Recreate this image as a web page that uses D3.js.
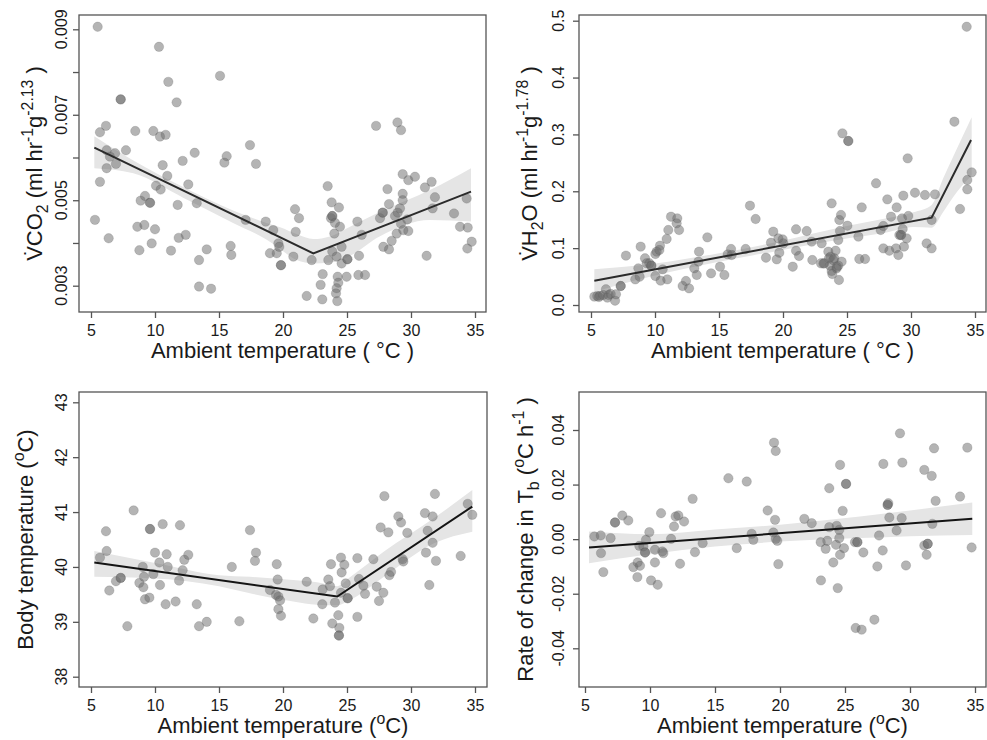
<!DOCTYPE html>
<html>
<head>
<meta charset="utf-8">
<script src="https://cdn.jsdelivr.net/npm/d3@7"></script>
<style>
  body { margin: 0; background: #fff; }
  svg text { font-family: "Liberation Sans", Arial, sans-serif; fill: #1a1a1a; white-space: pre; }
</style>
</head>
<body>
<svg id="chart" width="987" height="740"></svg>
<script>
// ---- data ----
var xTicks = [5, 10, 15, 20, 25, 30, 35];

// panel A: VCO2
var co2Points = [[5.52,0.00906],[5.31,0.00454],[5.70,0.00659],[6.17,0.00674],[6.22,0.00617],[6.48,0.00602],[6.88,0.00610],[6.95,0.00585],[6.22,0.00575],[5.70,0.00543],
  [6.38,0.00411],[7.32,0.00736],[7.73,0.00617],[8.46,0.00662],[8.62,0.00438],[8.78,0.00383],[8.88,0.00499],[9.22,0.00510],[9.17,0.00442],[9.61,0.00494],
  [9.74,0.00399],[9.87,0.00662],[10.08,0.00534],[10.0,0.00432],[10.31,0.00859],[10.39,0.00649],[10.83,0.00653],[10.44,0.00525],[10.6,0.00582],[10.96,0.00557],
  [11.04,0.00777],[11.25,0.00382],[11.69,0.00729],[11.77,0.00489],[11.85,0.00412],[12.16,0.00592],[12.40,0.00419],[12.60,0.00537],[13.10,0.00611],[13.26,0.00493],
  [13.44,0.00360],[13.44,0.00298],[14.04,0.00385],[14.38,0.00293],[15.08,0.00791],[15.60,0.00603],[15.42,0.00588],[15.91,0.00393],[15.96,0.00372],[17.08,0.00454],
  [17.42,0.00629],[17.89,0.00585],[18.65,0.00450],[18.98,0.00376],[19.24,0.00430],[19.51,0.00376],[19.64,0.00399],[19.71,0.00391],[19.84,0.00348],[19.84,0.00348],
  [20.81,0.00368],[20.94,0.00479],[20.99,0.00426],[21.25,0.00458],[21.85,0.00276],[22.24,0.00360],[22.94,0.00302],[23.10,0.00327],[23.07,0.00268],[23.49,0.00533],
  [23.54,0.00360],[23.80,0.00495],[23.75,0.00458],[23.85,0.00463],[23.85,0.00463],[24.06,0.00447],[24.01,0.00422],[23.85,0.00380],[24.19,0.00368],[24.37,0.00483],
  [24.45,0.00438],[24.27,0.00321],[24.32,0.00307],[24.19,0.00294],[24.14,0.00282],[24.24,0.00264],[24.58,0.00391],[24.58,0.00352],[25.03,0.00362],[25.03,0.00362],
  [24.97,0.00321],[25.81,0.00450],[25.94,0.00370],[26.15,0.00419],[25.89,0.00325],[26.41,0.00325],[27.27,0.00674],[27.58,0.00458],[27.79,0.00471],[27.79,0.00471],
  [27.84,0.00391],[28.16,0.00526],[28.28,0.00491],[28.28,0.00385],[28.49,0.00405],[28.75,0.00463],[28.94,0.00682],[29.22,0.00664],[28.96,0.00471],[29.14,0.00481],
  [28.88,0.00422],[29.35,0.00561],[29.35,0.00515],[29.35,0.00500],[29.22,0.00445],[29.40,0.00430],[29.71,0.00455],[29.79,0.00547],[29.79,0.00428],[30.31,0.00555],
  [31.09,0.00530],[31.22,0.00370],[31.61,0.00543],[31.69,0.00481],[31.87,0.00507],[33.36,0.00469],[33.83,0.00438],[34.35,0.00504],[34.43,0.00436],[34.40,0.00387],
  [34.74,0.00403],[7.32,0.00736],[9.61,0.00494]];
var co2FitX = [5.26, 22.37, 34.69];
var co2FitY = [0.00623, 0.003757, 0.0052];
var co2BandX  = [5.26, 8.31, 12.2, 16.1, 18.7, 19.77, 21.07, 22.37, 23.67, 24.97, 27.58, 31.48, 34.69];
var co2BandUp = [0.0065, 0.00593, 0.00531, 0.00476, 0.00447, 0.00437, 0.00421, 0.00409, 0.00415, 0.00434, 0.00473, 0.00524, 0.00575];
var co2BandLo = [0.00575, 0.00563, 0.00506, 0.00447, 0.00408, 0.00386, 0.0036, 0.00352, 0.00354, 0.00366, 0.00416, 0.00454, 0.0045];
var co2YTicks = [0.003, 0.004, 0.005, 0.006, 0.007, 0.008, 0.009];
var co2YLabels = ["0.003", "", "0.005", "", "0.007", "", "0.009"];

// panel B: VH2O
var h2oPoints = [[5.26,0.0147],[5.49,0.0158],[5.70,0.0164],[5.62,0.0140],[5.96,0.0176],[6.17,0.0276],[6.28,0.0129],[6.38,0.0176],[6.54,0.0193],[6.88,0.0076],
  [6.95,0.0188],[7.32,0.0334],[7.32,0.0334],[7.73,0.0868],[8.46,0.0451],[8.70,0.0645],[8.88,0.1026],[8.80,0.0498],[9.22,0.0821],[9.35,0.0733],
  [9.56,0.0733],[9.71,0.0692],[9.71,0.0692],[10.03,0.0897],[10.13,0.0938],[10.03,0.0510],[10.39,0.1043],[10.34,0.0967],[10.44,0.0428],[10.60,0.0627],
  [10.91,0.1161],[11.04,0.1319],[10.96,0.0451],[11.25,0.1553],[11.74,0.1524],[11.69,0.1436],[11.88,0.1319],[12.16,0.0334],[12.42,0.0422],[12.66,0.0293],
  [13.07,0.0645],[13.26,0.0528],[13.44,0.0938],[13.39,0.0762],[14.09,0.1190],[14.38,0.0557],[15.08,0.0674],[15.42,0.0528],[15.68,0.0891],[15.94,0.0985],
  [15.99,0.0879],[17.08,0.0985],[17.42,0.1747],[17.86,0.1512],[18.67,0.0832],[19.24,0.1290],[19.06,0.1096],[19.51,0.0803],[19.64,0.1172],[19.71,0.0920],
  [19.97,0.1155],[20.03,0.1084],[20.76,0.0674],[21.02,0.1331],[21.02,0.0955],[21.25,0.0862],[21.85,0.1301],[22.24,0.1114],[22.29,0.0791],[23.02,0.1084],
  [22.97,0.0733],[23.23,0.0733],[23.54,0.0938],[23.59,0.0821],[23.80,0.1788],[23.67,0.0692],[23.80,0.0598],[23.85,0.0545],[24.01,0.0821],[24.11,0.0955],
  [24.19,0.0645],[24.32,0.0692],[24.37,0.0440],[24.32,0.1143],[24.40,0.1495],[24.53,0.1583],[24.45,0.1301],[24.58,0.0762],[24.64,0.3019],[25.10,0.2884],
  [25.10,0.2884],[25.03,0.1395],[25.89,0.1202],[25.96,0.0809],[26.15,0.1717],[26.41,0.0809],[27.27,0.2140],[27.63,0.1319],[27.84,0.1389],[27.84,0.0996],
  [28.15,0.1858],[28.31,0.0955],[28.44,0.1553],[28.88,0.1717],[28.83,0.0996],[29.01,0.0879],[29.09,0.1231],[29.22,0.1231],[29.22,0.1231],[29.40,0.1923],
  [29.30,0.1524],[29.35,0.1336],[29.45,0.1026],[29.66,0.1172],[29.74,0.2579],[29.79,0.1565],[30.31,0.1975],[31.09,0.1934],[31.22,0.1084],[31.61,0.0996],
  [31.61,0.1495],[31.87,0.1946],[33.39,0.3224],[33.83,0.1688],[34.40,0.2198],[34.40,0.2034],[34.74,0.2333],[34.35,0.4894],[23.72,0.0850],[23.93,0.0790],
  [24.20,0.0670],[23.16,0.0730]];
var h2oFitX = [5.26, 31.61, 34.69];
var h2oFitY = [0.0428, 0.1536, 0.2902];
var h2oBandX  = [5.26, 10, 15, 19.77, 24.97, 28, 30.18, 31.61, 32.5, 33.3, 34.74];
var h2oBandUp = [0.0627, 0.073, 0.091, 0.112, 0.139, 0.152, 0.163, 0.176, 0.222, 0.261, 0.33];
var h2oBandLo = [0.0234, 0.052, 0.076, 0.096, 0.117, 0.127, 0.137, 0.136, 0.163, 0.19, 0.228];
var h2oYTicks = [0, 0.1, 0.2, 0.3, 0.4, 0.5];
var h2oYLabels = ["0.0", "0.1", "0.2", "0.3", "0.4", "0.5"];

// panel C: body temperature
var tbPoints = [[5.70,40.17],[6.17,40.65],[6.22,40.29],[6.43,39.57],[6.95,39.74],[7.32,39.80],[7.32,39.80],[7.84,38.92],[8.33,41.03],[8.78,39.71],
  [9.04,40.00],[9.09,39.63],[9.14,39.82],[9.22,39.41],[9.56,39.44],[9.61,40.69],[9.61,40.69],[9.87,39.87],[10.0,40.26],[10.34,40.08],
  [10.39,39.67],[10.60,40.78],[10.83,39.32],[10.91,40.23],[10.99,40.00],[11.61,39.37],[11.88,39.75],[11.95,40.76],[12.16,39.94],[12.29,40.13],
  [12.60,40.22],[13.26,39.32],[13.44,38.92],[14.04,39.00],[16.0,40.00],[16.59,39.01],[17.42,40.67],[17.89,40.26],[17.81,40.11],[18.98,39.58],
  [19.51,40.05],[19.58,39.77],[19.45,39.49],[19.64,39.46],[19.77,39.39],[19.64,39.23],[19.84,39.11],[21.85,39.73],[22.37,39.06],[23.10,39.59],
  [23.07,39.32],[23.54,39.77],[23.67,39.65],[23.75,40.05],[23.85,38.97],[24.06,39.35],[24.32,39.12],[24.40,38.89],[24.37,38.75],[24.37,38.75],
  [24.53,40.17],[24.58,39.90],[24.79,40.04],[24.53,39.53],[24.90,39.70],[25.05,39.43],[25.05,39.43],[25.81,40.16],[25.81,39.09],[25.94,39.78],
  [26.28,39.66],[26.41,39.51],[27.06,40.14],[27.32,39.64],[27.50,39.38],[27.63,40.72],[27.84,39.53],[27.92,41.29],[28.23,40.63],[28.31,39.85],
  [28.44,39.91],[29.01,40.92],[29.22,40.81],[29.35,40.14],[29.40,40.10],[29.71,40.62],[31.09,40.98],[31.17,40.26],[31.30,40.66],[31.43,39.67],
  [31.69,40.92],[31.69,40.44],[31.87,41.33],[31.95,40.11],[33.88,40.20],[34.43,41.15],[34.79,40.95]];
var tbFitX = [5.26, 24.24, 34.79];
var tbFitY = [40.08, 39.46, 41.10];
var tbBandX  = [5.26, 10, 15, 17.42, 20.8, 22.65, 24.24, 25.28, 27.89, 31.8, 34.79];
var tbBandUp = [40.29, 40.07, 39.85, 39.82, 39.76, 39.72, 39.65, 39.82, 40.28, 40.89, 41.40];
var tbBandLo = [39.82, 39.79, 39.65, 39.52, 39.37, 39.31, 39.30, 39.40, 39.82, 40.43, 40.64];
var tbYTicks = [38, 39, 40, 41, 42, 43];
var tbYLabels = ["38", "39", "40", "41", "42", "43"];

// panel D: rate of change in Tb
var rtPoints = [[5.72,0.00098],[6.21,0.00134],[6.23,-0.00512],[6.41,-0.01207],[6.97,0.00037],[7.31,0.0061],[7.31,0.0061],[7.87,0.00866],[8.33,0.00683],[8.72,-0.01024],
  [9.05,-0.00854],[9.03,-0.0139],[9.23,-0.00976],[9.18,-0.00244],[9.49,-0.00268],[9.62,-0.00488],[9.62,-0.00488],[9.69,-0.00024],[9.95,0.00256],[10.08,-0.01512],
  [10.38,-0.00854],[10.38,-0.0039],[10.59,-0.01671],[10.85,0.00951],[10.95,-0.00451],[11.03,-0.00512],[11.62,0.00012],[11.85,0.00463],[11.97,0.00829],[12.18,0.00866],
  [12.31,-0.00902],[12.62,0.00646],[13.28,0.01476],[13.46,-0.00476],[14.05,-0.00146],[16.03,0.02232],[16.67,-0.00329],[17.44,0.0211],[17.82,0.00195],[17.95,-0.00024],
  [19.05,0.01049],[19.54,0.03537],[19.67,0.03232],[19.62,0.00707],[19.49,0.00244],[19.67,0.00012],[19.79,-0.00061],[19.87,-0.00915],[21.87,0.00744],[22.44,0.00585],
  [23.13,-0.0011],[23.15,-0.01512],[23.51,-0.00354],[23.64,-0.00061],[23.79,0.01866],[23.79,0.00439],[24.10,-0.00854],[24.31,-0.00207],[24.36,0.00488],[24.44,-0.01793],
  [24.56,0.00341],[24.56,0.00037],[24.62,0.0272],[24.62,-0.00573],[24.82,0.01037],[24.92,-0.00329],[25.08,0.02024],[25.08,0.02024],[25.77,-0.0011],[25.95,-0.0011],
  [25.95,-0.0011],[25.82,-0.03256],[26.28,-0.03317],[26.41,-0.00488],[27.26,-0.02951],[27.49,-0.01],[27.62,0.00134],[27.90,-0.00415],[27.95,0.02756],[28.28,0.01256],
  [28.28,0.01256],[28.33,0.01317],[28.41,0.00793],[28.97,0.00317],[29.23,0.03878],[29.41,0.02805],[29.36,0.00768],[29.69,-0.00963],[31.10,0.02537],[31.10,-0.00232],
  [31.28,-0.00573],[31.36,-0.00171],[31.36,-0.00171],[31.67,0.02317],[31.72,0.00561],[31.85,0.03329],[31.97,0.01402],[33.85,0.01561],[34.41,0.03354],[34.74,-0.00305]];
var rtFitX = [5.31, 34.79];
var rtFitY = [-0.00305, 0.00744];
var rtBandX  = [5.31, 10, 15, 20, 26.15, 30, 34.79];
var rtBandUp = [0.0028, 0.0018, 0.0035, 0.0053, 0.0083, 0.0105, 0.0134];
var rtBandLo = [-0.0088, -0.0055, -0.0027, -0.0009, 0.0004, 0.0011, 0.0015];
var rtYTicks = [-0.04, -0.02, 0, 0.02, 0.04];
var rtYLabels = ["-0.04", "-0.02", "0.00", "0.02", "0.04"];

// titles: [text, kind] with kind "", "sup" or "sub"
var xTitleTop = [["Ambient temperature ( \u00B0C )", ""]];
var xTitleBottom = [["Ambient temperature (", ""], ["o", "sup"], ["C)", ""]];
var co2Title = [["V\u0307CO", ""], ["2", "sub"], [" (ml hr", ""], ["-1", "sup"], ["g", ""], ["-2.13", "sup"], [" )", ""]];
var h2oTitle = [["V\u0307H", ""], ["2", "sub"], ["O (ml hr", ""], ["-1", "sup"], ["g", ""], ["-1.78", "sup"], [" )", ""]];
var tbTitle = [["Body temperature (", ""], ["o", "sup"], ["C)", ""]];
var rtTitle = [["Rate of change in T", ""], ["b", "sub"], [" (", ""], ["o", "sup"], ["C h", ""], ["-1", "sup"], [" )", ""]];

// ---- layout ----
var panels = [
  { box: [79, 15, 486, 312], xr: [91, 475], yv: [0.003, 0.009], yr: [285.7, 29.3],
    pts: co2Points, fx: co2FitX, fy: co2FitY, bx: co2BandX, bu: co2BandUp, bl: co2BandLo,
    yt: co2YTicks, yl: co2YLabels, xtitle: xTitleTop, ytitle: co2Title, ylabX: 67, ytitX: 42, lineCol: "#2b2b2b" },
  { box: [579, 15, 986, 312], xr: [591, 975], yv: [0, 0.5], yr: [305, 20.7],
    pts: h2oPoints, fx: h2oFitX, fy: h2oFitY, bx: h2oBandX, bu: h2oBandUp, bl: h2oBandLo,
    yt: h2oYTicks, yl: h2oYLabels, xtitle: xTitleTop, ytitle: h2oTitle, ylabX: 564, ytitX: 537, lineCol: "#2b2b2b" },
  { box: [79, 392, 487, 687], xr: [91, 475], yv: [38, 43], yr: [676.7, 402.3],
    pts: tbPoints, fx: tbFitX, fy: tbFitY, bx: tbBandX, bu: tbBandUp, bl: tbBandLo,
    yt: tbYTicks, yl: tbYLabels, xtitle: xTitleBottom, ytitle: tbTitle, ylabX: 67, ytitX: 33, lineCol: "#141414" },
  { box: [579, 392, 986, 687], xr: [585, 975], yv: [-0.04, 0.04], yr: [648.3, 430],
    pts: rtPoints, fx: rtFitX, fy: rtFitY, bx: rtBandX, bu: rtBandUp, bl: rtBandLo,
    yt: rtYTicks, yl: rtYLabels, xtitle: xTitleBottom, ytitle: rtTitle, ylabX: 564, ytitX: 533, lineCol: "#141414" }
];

var svg = d3.select("#chart");
svg.append("rect").attr("width", 987).attr("height", 740).attr("fill", "#fff");

var TICK = 16, TITLE = 22;

function rich(text, parts, size) {
  var cur = 0;
  parts.forEach(function (p) {
    var target = p[1] === "sup" ? -0.42 * size : p[1] === "sub" ? 0.25 * size : 0;
    text.append("tspan")
      .attr("dy", target - cur)
      .attr("font-size", p[1] ? size * 0.72 : size)
      .text(p[0]);
    cur = target;
  });
}

panels.forEach(function (p) {
  var b = p.box;
  var x = d3.scaleLinear().domain([5, 35]).range(p.xr);
  var y = d3.scaleLinear().domain(p.yv).range(p.yr);
  var g = svg.append("g");

  // confidence band
  var band = p.bx.map(function (v, i) { return [v, p.bu[i], p.bl[i]]; });
  g.append("path").datum(band)
    .attr("fill", "#e5e5e5")
    .attr("d", d3.area().curve(d3.curveMonotoneX)
      .x(function (d) { return x(d[0]); })
      .y0(function (d) { return y(d[2]); })
      .y1(function (d) { return y(d[1]); }));

  // points
  g.selectAll("circle").data(p.pts).enter().append("circle")
    .attr("cx", function (d) { return x(d[0]); })
    .attr("cy", function (d) { return y(d[1]); })
    .attr("r", 4.7)
    .style("fill", "#6a6a6a")
    .style("fill-opacity", 0.5)
    .style("stroke", "#555")
    .style("stroke-opacity", 0.25)
    .style("stroke-width", 0.8);

  // fitted line
  var fit = p.fx.map(function (v, i) { return [v, p.fy[i]]; });
  g.append("path").datum(fit)
    .attr("fill", "none")
    .attr("stroke", p.lineCol)
    .attr("stroke-width", 2)
    .attr("d", d3.line().x(function (d) { return x(d[0]); }).y(function (d) { return y(d[1]); }));

  // box
  g.append("rect")
    .attr("x", b[0]).attr("y", b[1])
    .attr("width", b[2] - b[0]).attr("height", b[3] - b[1])
    .attr("fill", "none").attr("stroke", "#555").attr("stroke-width", 1.3);

  // x axis
  var xa = g.append("g").attr("transform", "translate(0," + b[3] + ")")
    .call(d3.axisBottom(x).tickValues(xTicks).tickSize(6).tickPadding(4).tickFormat(d3.format("d")));
  xa.select(".domain").remove();
  xa.selectAll(".tick line").attr("stroke", "#555").attr("stroke-width", 1.3);
  xa.selectAll(".tick text").attr("font-size", TICK).attr("font-family", null).attr("fill", "#1a1a1a")
    .attr("dy", null).attr("y", 24);

  // y axis
  var ya = g.append("g").attr("transform", "translate(" + b[0] + ",0)")
    .call(d3.axisLeft(y).tickValues(p.yt).tickSize(6).tickFormat(""));
  ya.select(".domain").remove();
  ya.selectAll(".tick line").attr("stroke", "#555").attr("stroke-width", 1.3);
  p.yt.forEach(function (v, i) {
    if (!p.yl[i]) return;
    g.append("text")
      .attr("transform", "translate(" + p.ylabX + "," + y(v) + ") rotate(-90)")
      .attr("text-anchor", "middle")
      .attr("font-size", TICK)
      .text(p.yl[i]);
  });

  // titles
  var xt = g.append("text")
    .attr("x", (b[0] + b[2]) / 2).attr("y", b[3] + 46)
    .attr("text-anchor", "middle");
  rich(xt, p.xtitle, TITLE);

  var yt = g.append("text")
    .attr("transform", "translate(" + p.ytitX + "," + (b[1] + b[3]) / 2 + ") rotate(-90)")
    .attr("text-anchor", "middle");
  rich(yt, p.ytitle, TITLE);
});
</script>
</body>
</html>
